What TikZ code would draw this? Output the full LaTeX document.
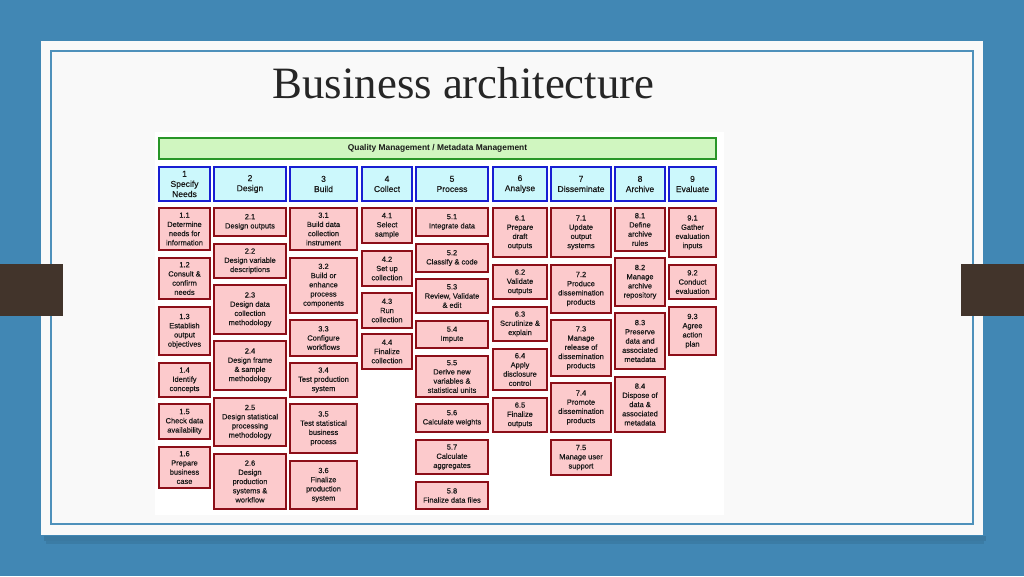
\documentclass[tikz,border=0pt]{standalone}
\usepackage{fontspec}
\setmainfont{Liberation Sans}
\newfontfamily\titlefont{Liberation Serif}
\newfontfamily\boxfont[FakeBold=0.4]{Liberation Sans}
\definecolor{bgblue}{RGB}{65,135,180}
\definecolor{panel}{RGB}{249,249,249}
\definecolor{lineblue}{RGB}{78,145,187}
\definecolor{tabbrown}{RGB}{66,52,43}
\definecolor{subfill}{RGB}{252,202,204}
\definecolor{subdraw}{RGB}{140,14,24}
\definecolor{hdfill}{RGB}{204,248,252}
\definecolor{hddraw}{RGB}{24,30,210}
\definecolor{qmfill}{RGB}{208,246,192}
\definecolor{qmdraw}{RGB}{40,150,40}
\definecolor{txt}{RGB}{25,25,25}
\tikzset{
  boxbase/.style={rectangle, inner sep=0.4pt, align=center, text=txt},
  subbox/.style={boxbase, fill=subfill, draw=subdraw, line width=1.6pt,
    font=\boxfont\fontsize{5.6}{6.9}\selectfont},
  hdbox/.style={boxbase, fill=hdfill, draw=hddraw, line width=1.6pt,
    font=\boxfont\fontsize{6.4}{7.6}\selectfont},
  qmbox/.style={boxbase, fill=qmfill, draw=qmdraw, line width=1.4pt,
    font=\bfseries\fontsize{6.3}{7}\selectfont},
}
\newcommand\gbox[7]{%
  \pgfmathsetmacro\gbw{(#5-#3-2)*0.75}%
  \pgfmathsetmacro\gbh{(#6-#4-2)*0.75}%
  \node[#1, minimum width=\gbw pt, minimum height=\gbh pt] (#2) at ({(#3+#5)/2},{(#4+#6)/2}) {#7};}
\begin{document}
\begin{tikzpicture}[x=0.75pt,y=-0.75pt]
\useasboundingbox (0,0) rectangle (1024,576);
% slide background
\fill[bgblue] (0,0) rectangle (1024,576);
\fill[black, opacity=0.10] (44,536) rectangle (986,541);
\fill[black, opacity=0.08] (46,541) rectangle (984,544);
\fill[panel] (41,41) rectangle (983,535);
\draw[lineblue, line width=0.9pt] (51,51) rectangle (973,524);
\fill[tabbrown] (0,264) rectangle (63,316);
\fill[tabbrown] (961,264) rectangle (1024,316);
% title
\node[anchor=base, inner sep=0pt, text=black!85, font=\titlefont\fontsize{33.6}{38}\selectfont] (title) at (463.5,98) {Business architecture};
% diagram area
\fill[white] (155,132) rectangle (724,515);
% quality management bar
\gbox{qmbox}{qm}{158}{137}{717}{160}{Quality Management / Metadata Management}
% headers
\gbox{hdbox}{h1}{158}{166}{211}{202}{1\\Specify\\Needs}
\gbox{hdbox}{h2}{213}{166}{287}{202}{2\\Design}
\gbox{hdbox}{h3}{289}{166}{358}{202}{3\\Build}
\gbox{hdbox}{h4}{361}{166}{413}{202}{4\\Collect}
\gbox{hdbox}{h5}{415}{166}{489}{202}{5\\Process}
\gbox{hdbox}{h6}{492}{166}{548}{202}{6\\Analyse}
\gbox{hdbox}{h7}{550}{166}{612}{202}{7\\Disseminate}
\gbox{hdbox}{h8}{614}{166}{666}{202}{8\\Archive}
\gbox{hdbox}{h9}{668}{166}{717}{202}{9\\Evaluate}
% column 1
\gbox{subbox}{s11}{158}{207}{211}{251}{1.1\\Determine\\needs for\\information}
\gbox{subbox}{s12}{158}{257}{211}{300}{1.2\\Consult \&\\confirm\\needs}
\gbox{subbox}{s13}{158}{306}{211}{356}{1.3\\Establish\\output\\objectives}
\gbox{subbox}{s14}{158}{362}{211}{398}{1.4\\Identify\\concepts}
\gbox{subbox}{s15}{158}{403}{211}{440}{1.5\\Check data\\availability}
\gbox{subbox}{s16}{158}{446}{211}{489}{1.6\\Prepare\\business\\case}
% column 2
\gbox{subbox}{s21}{213}{207}{287}{237}{2.1\\Design outputs}
\gbox{subbox}{s22}{213}{243}{287}{279}{2.2\\Design variable\\descriptions}
\gbox{subbox}{s23}{213}{284}{287}{335}{2.3\\Design data\\collection\\methodology}
\gbox{subbox}{s24}{213}{340}{287}{391}{2.4\\Design frame\\\& sample\\methodology}
\gbox{subbox}{s25}{213}{397}{287}{447}{2.5\\Design statistical\\processing\\methodology}
\gbox{subbox}{s26}{213}{453}{287}{510}{2.6\\Design\\production\\systems \&\\workflow}
% column 3
\gbox{subbox}{s31}{289}{207}{358}{251}{3.1\\Build data\\collection\\instrument}
\gbox{subbox}{s32}{289}{257}{358}{314}{3.2\\Build or\\enhance\\process\\components}
\gbox{subbox}{s33}{289}{319}{358}{357}{3.3\\Configure\\workflows}
\gbox{subbox}{s34}{289}{362}{358}{398}{3.4\\Test production\\system}
\gbox{subbox}{s35}{289}{403}{358}{454}{3.5\\Test statistical\\business\\process}
\gbox{subbox}{s36}{289}{460}{358}{510}{3.6\\Finalize\\production\\system}
% column 4
\gbox{subbox}{s41}{361}{207}{413}{244}{4.1\\Select\\sample}
\gbox{subbox}{s42}{361}{250}{413}{287}{4.2\\Set up\\collection}
\gbox{subbox}{s43}{361}{292}{413}{329}{4.3\\Run\\collection}
\gbox{subbox}{s44}{361}{333}{413}{370}{4.4\\Finalize\\collection}
% column 5
\gbox{subbox}{s51}{415}{207}{489}{237}{5.1\\Integrate data}
\gbox{subbox}{s52}{415}{243}{489}{273}{5.2\\Classify \& code}
\gbox{subbox}{s53}{415}{278}{489}{314}{5.3\\Review, Validate\\\& edit}
\gbox{subbox}{s54}{415}{320}{489}{349}{5.4\\Impute}
\gbox{subbox}{s55}{415}{355}{489}{398}{5.5\\Derive new\\variables \&\\statistical units}
\gbox{subbox}{s56}{415}{403}{489}{433}{5.6\\Calculate weights}
\gbox{subbox}{s57}{415}{439}{489}{475}{5.7\\Calculate\\aggregates}
\gbox{subbox}{s58}{415}{481}{489}{510}{5.8\\Finalize data files}
% column 6
\gbox{subbox}{s61}{492}{207}{548}{258}{6.1\\Prepare\\draft\\outputs}
\gbox{subbox}{s62}{492}{264}{548}{300}{6.2\\Validate\\outputs}
\gbox{subbox}{s63}{492}{306}{548}{342}{6.3\\Scrutinize \&\\explain}
\gbox{subbox}{s64}{492}{348}{548}{391}{6.4\\Apply\\disclosure\\control}
\gbox{subbox}{s65}{492}{397}{548}{433}{6.5\\Finalize\\outputs}
% column 7
\gbox{subbox}{s71}{550}{207}{612}{258}{7.1\\Update\\output\\systems}
\gbox{subbox}{s72}{550}{264}{612}{314}{7.2\\Produce\\dissemination\\products}
\gbox{subbox}{s73}{550}{319}{612}{377}{7.3\\Manage\\release of\\dissemination\\products}
\gbox{subbox}{s74}{550}{382}{612}{433}{7.4\\Promote\\dissemination\\products}
\gbox{subbox}{s75}{550}{439}{612}{476}{7.5\\Manage user\\support}
% column 8
\gbox{subbox}{s81}{614}{207}{666}{252}{8.1\\Define\\archive\\rules}
\gbox{subbox}{s82}{614}{257}{666}{307}{8.2\\Manage\\archive\\repository}
\gbox{subbox}{s83}{614}{312}{666}{370}{8.3\\Preserve\\data and\\associated\\metadata}
\gbox{subbox}{s84}{614}{376}{666}{433}{8.4\\Dispose of\\data \&\\associated\\metadata}
% column 9
\gbox{subbox}{s91}{668}{207}{717}{258}{9.1\\Gather\\evaluation\\inputs}
\gbox{subbox}{s92}{668}{264}{717}{300}{9.2\\Conduct\\evaluation}
\gbox{subbox}{s93}{668}{306}{717}{356}{9.3\\Agree\\action\\plan}
\end{tikzpicture}
\end{document}
